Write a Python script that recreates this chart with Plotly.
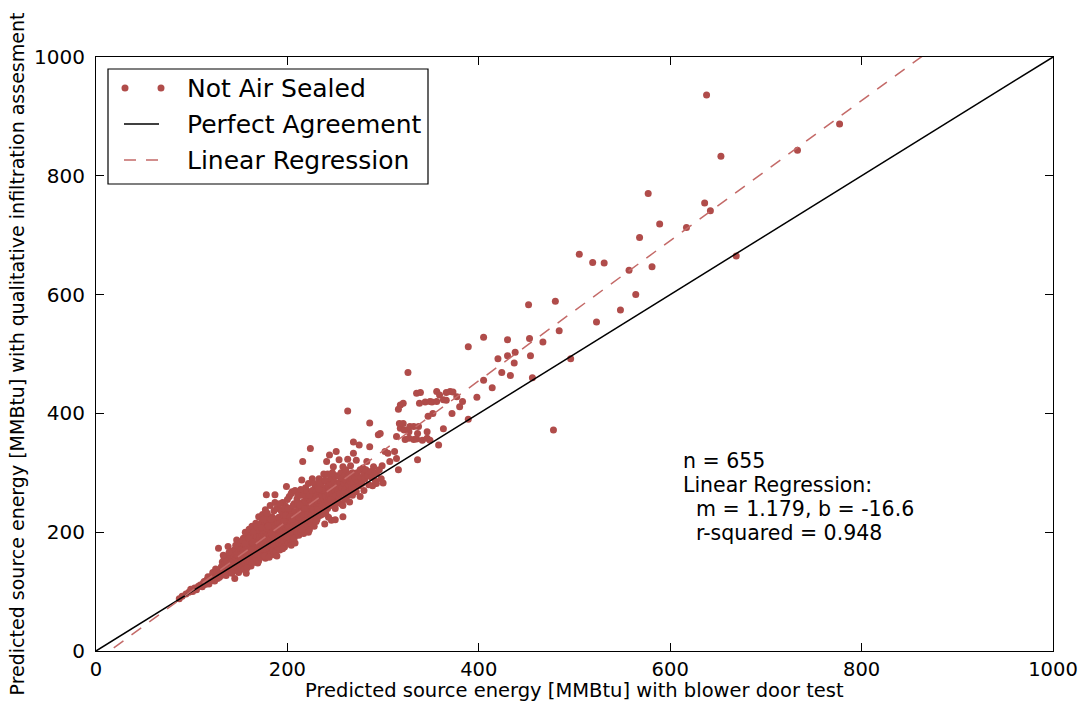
import plotly.graph_objects as go

# ---------------------------------------------------------------------------
# Data: predicted source energy [MMBtu] per home, (blower door, qualitative)
# ---------------------------------------------------------------------------
small_homes = [
    (87, 88), (90, 92), (94, 96), (97, 99), (99, 104), (101, 100), (103, 106), (105, 103), (107, 109), (109, 111),
    (111, 108), (112, 114),
]

homes_113_130 = [
    (113, 117), (114, 112), (115, 118), (116, 120), (117, 115), (117, 125), (118, 122), (118, 113), (119, 118), (120, 125),
    (121, 119), (121, 123), (122, 127), (122, 132), (123, 121), (124, 130), (124, 118), (125, 124), (125, 138), (126, 128),
    (126, 133), (127, 122), (127, 129), (128, 131), (128, 126), (128, 173), (129, 136), (129, 124), (130, 127), (130, 133),
]

homes_130_150 = [
    (131, 135), (131, 142), (132, 128), (132, 150), (133, 138), (133, 145), (134, 131), (134, 156), (135, 140), (135, 148),
    (136, 134), (136, 152), (137, 143), (137, 160), (138, 138), (138, 147), (138, 176), (139, 133), (139, 154), (140, 142),
    (140, 150), (140, 163), (141, 137), (141, 157), (142, 146), (142, 168), (143, 140), (143, 153), (144, 135), (144, 160),
    (145, 148), (145, 122), (145, 171), (146, 141), (146, 155), (147, 150), (147, 187), (147, 163), (148, 137), (148, 158),
    (149, 145), (149, 167), (150, 152), (150, 140), (150, 175), (133, 161), (136, 127), (139, 166), (142, 131), (144, 151),
    (146, 178), (148, 150), (137, 151), (141, 149), (149, 132),
]

homes_150_170 = [
    (151, 158), (151, 145), (151, 170), (152, 138), (152, 163), (152, 181), (153, 150), (153, 172), (154, 143), (154, 160),
    (154, 190), (155, 155), (155, 167), (155, 178), (156, 148), (156, 171), (156, 200), (157, 131), (157, 160), (157, 184),
    (158, 152), (158, 168), (158, 198), (159, 145), (159, 175), (159, 189), (160, 158), (160, 166), (160, 180), (160, 205),
    (161, 150), (161, 172), (161, 193), (162, 162), (162, 178), (162, 143), (163, 169), (163, 185), (163, 210), (164, 155),
    (164, 174), (164, 196), (165, 160), (165, 182), (165, 170), (166, 150), (166, 188), (166, 177), (167, 165), (167, 199),
    (167, 215), (168, 158), (168, 180), (168, 192), (169, 171), (169, 148), (169, 205), (170, 163), (170, 186), (170, 176),
    (153, 186), (155, 137), (157, 176), (159, 163), (161, 186), (163, 148), (165, 201), (167, 156), (169, 184), (152, 155),
    (154, 168), (156, 181), (158, 140), (160, 190), (162, 170), (164, 183), (166, 163), (168, 209), (170, 226), (170, 152),
]

homes_170_190 = [
    (171, 170), (171, 190), (171, 203), (172, 158), (172, 182), (172, 215), (173, 175), (173, 195), (173, 165), (174, 186),
    (174, 206), (174, 230), (175, 162), (175, 178), (175, 198), (176, 170), (176, 190), (176, 213), (177, 156), (177, 183),
    (177, 202), (177, 238), (178, 175), (178, 193), (178, 263), (178, 220), (179, 168), (179, 186), (179, 208), (180, 179),
    (180, 196), (180, 162), (180, 225), (181, 188), (181, 204), (181, 172), (182, 195), (182, 182), (182, 214), (182, 245),
    (183, 165), (183, 200), (183, 190), (184, 178), (184, 208), (184, 226), (185, 170), (185, 193), (185, 184), (185, 218),
    (186, 200), (186, 162), (186, 236), (187, 188), (187, 263), (187, 210), (187, 177), (188, 196), (188, 222), (188, 168),
    (189, 185), (189, 205), (189, 240), (190, 175), (190, 198), (190, 215), (171, 180), (173, 208), (175, 222), (176, 160),
    (178, 207), (179, 232), (180, 210), (181, 158), (183, 222), (184, 196), (186, 180), (187, 250), (188, 206), (189, 160),
]

homes_190_210 = [
    (191, 182), (191, 205), (191, 225), (192, 195), (192, 170), (192, 215), (193, 188), (193, 208), (193, 238), (194, 200),
    (194, 178), (194, 222), (195, 192), (195, 212), (195, 250), (196, 185), (196, 205), (196, 230), (197, 198), (197, 175),
    (197, 218), (198, 210), (198, 190), (198, 244), (199, 203), (199, 277), (199, 225), (200, 186), (200, 215), (200, 235),
    (200, 198), (201, 208), (201, 182), (201, 222), (202, 195), (202, 260), (202, 228), (203, 212), (203, 188), (203, 240),
    (204, 200), (204, 220), (204, 178), (205, 210), (205, 232), (205, 192), (205, 268), (206, 205), (206, 225), (206, 185),
    (207, 215), (207, 198), (207, 248), (208, 182), (208, 222), (208, 235), (209, 208), (209, 195), (209, 228), (210, 218),
    (210, 200), (210, 256), (191, 195), (192, 248), (193, 200), (194, 235), (195, 172), (196, 218), (197, 240), (198, 228),
    (199, 193), (200, 255), (201, 240), (202, 208), (203, 225), (204, 265), (205, 222), (206, 245), (207, 190), (208, 270),
]

homes_210_230 = [
    (211, 205), (211, 228), (211, 248), (212, 215), (212, 195), (212, 240), (213, 232), (213, 210), (213, 262), (214, 222),
    (214, 200), (214, 245), (215, 288), (215, 218), (215, 235), (216, 208), (216, 250), (216, 319), (216, 228), (217, 240),
    (217, 198), (217, 265), (218, 225), (218, 212), (218, 252), (219, 235), (219, 205), (219, 275), (220, 245), (220, 220),
    (220, 232), (221, 210), (221, 258), (221, 240), (222, 228), (222, 248), (222, 282), (223, 218), (223, 236), (223, 204),
    (224, 341), (224, 252), (224, 230), (225, 242), (225, 265), (225, 215), (226, 235), (226, 255), (226, 290), (227, 222),
    (227, 248), (228, 238), (228, 260), (228, 210), (229, 245), (229, 228), (229, 275), (230, 252), (230, 235), (230, 218),
    (211, 262), (212, 225), (213, 246), (214, 272), (215, 205), (216, 262), (217, 228), (218, 240), (219, 220), (220, 270),
    (221, 230), (222, 200), (223, 262), (224, 245), (225, 228), (226, 270), (227, 238), (228, 282), (229, 255), (230, 268),
]

homes_230_250 = [
    (231, 240), (231, 262), (231, 222), (232, 250), (232, 275), (233, 235), (233, 258), (233, 290), (234, 245), (234, 228),
    (234, 268), (235, 252), (235, 240), (235, 282), (236, 262), (236, 230), (237, 248), (237, 272), (238, 255), (238, 240),
    (238, 298), (239, 214), (239, 265), (239, 250), (240, 275), (240, 245), (240, 260), (241, 319), (241, 252), (241, 285),
    (242, 240), (242, 268), (243, 258), (243, 278), (243, 225), (244, 330), (244, 262), (244, 248), (245, 272), (245, 290),
    (246, 220), (246, 258), (246, 280), (247, 265), (247, 245), (248, 310), (248, 275), (248, 255), (249, 285), (249, 262),
    (250, 270), (250, 240), (250, 295), (232, 238), (234, 282), (236, 270), (237, 232), (239, 288), (242, 298), (245, 255),
    (247, 300), (249, 250), (233, 272), (236, 245), (240, 232),
]

homes_250_270 = [
    (250, 221), (251, 262), (251, 336), (252, 280), (252, 250), (253, 270), (253, 295), (254, 258), (254, 322), (255, 285),
    (255, 265), (256, 248), (256, 300), (257, 275), (257, 290), (258, 226), (258, 245), (258, 310), (259, 282), (259, 265),
    (260, 295), (260, 270), (260, 255), (261, 288), (261, 305), (262, 275), (262, 260), (263, 404), (263, 323), (263, 292),
    (264, 280), (264, 268), (265, 251), (265, 298), (266, 285), (266, 312), (267, 272), (267, 290), (268, 300), (268, 262),
    (269, 333), (269, 352), (269, 282), (270, 295), (270, 275),
]

homes_270_300 = [
    (271, 290), (272, 321), (272, 268), (273, 300), (274, 285), (275, 347), (275, 278), (276, 260), (276, 305), (277, 292),
    (278, 282), (279, 308), (280, 298), (280, 270), (281, 290), (282, 305), (283, 319), (284, 295), (285, 280), (286, 344),
    (286, 384), (287, 302), (288, 292), (289, 278), (290, 310), (291, 300), (292, 286), (293, 282), (293, 299), (295, 364),
    (296, 305), (297, 366), (298, 290), (299, 312), (300, 283),
]

homes_300_390 = [
    (302, 336), (305, 333), (307, 319), (312, 336), (314, 324), (314, 361), (316, 305), (316, 407), (318, 375), (317, 383),
    (318, 414), (321, 417), (321, 383), (322, 372), (323, 356), (325, 372), (327, 358), (327, 369), (326, 469), (328, 378),
    (332, 356), (332, 378), (335, 357), (336, 366), (336, 322), (337, 378), (338, 417), (335, 434), (339, 435), (341, 355),
    (344, 419), (346, 358), (346, 369), (347, 395), (349, 420), (349, 355), (351, 419), (352, 400), (356, 420), (356, 437),
    (358, 347), (359, 431), (363, 374), (363, 423), (366, 435), (366, 422), (370, 437), (372, 400), (373, 436), (377, 428),
    (380, 411), (383, 420), (389, 390),
]

large_homes = [
    (389, 512), (398, 427), (405, 456), (405, 528), (414, 443), (420, 492), (424, 469), (430, 497), (430, 524), (433, 464),
    (437, 485), (438, 503), (452, 583), (453, 526), (454, 497), (456, 460), (467, 520), (478, 372), (480, 589), (484, 539),
    (496, 492), (505, 668), (519, 654), (523, 554), (531, 653), (548, 574), (557, 641), (564, 600), (568, 696), (577, 770),
    (581, 647), (589, 719), (617, 713), (636, 754), (638, 936), (642, 741), (653, 833), (669, 665), (733, 843), (777, 887),
]

# Regression summary
N_HOMES = 655
REG_SLOPE = 1.179
REG_INTERCEPT = -16.6
R_SQUARED = 0.948

AXIS_RANGE = [0, 1000]
AXIS_TICKS = [0, 200, 400, 600, 800, 1000]
X_TITLE = "Predicted source energy [MMBtu] with blower door test"
Y_TITLE = "Predicted source energy [MMBtu] with qualitative infiltration assesment"

homes = (small_homes + homes_113_130 + homes_130_150 + homes_150_170 + homes_170_190
         + homes_190_210 + homes_210_230 + homes_230_250 + homes_250_270
         + homes_270_300 + homes_300_390 + large_homes)
blower_door = [h[0] for h in homes]
qualitative = [h[1] for h in homes]

# ---------------------------------------------------------------------------
# Styling
# ---------------------------------------------------------------------------
FONT = "DejaVu Sans"
POINT_COLOR = "#b04c4a"
REG_COLOR = "#c46a68"
DASH = "12px,10px"

W, H = 1081, 702
PLOT_L, PLOT_R, PLOT_T, PLOT_B = 96, 1053, 57, 651


def paper_x(px):
    return (px - PLOT_L) / (PLOT_R - PLOT_L)


def paper_y(py):
    return (PLOT_B - py) / (PLOT_B - PLOT_T)


fig = go.Figure()

fig.add_trace(go.Scatter(
    x=blower_door, y=qualitative, mode="markers",
    marker=dict(color=POINT_COLOR, size=7, line=dict(width=0)),
    name="Not Air Sealed", showlegend=False,
))

fig.add_trace(go.Scatter(
    x=AXIS_RANGE, y=AXIS_RANGE, mode="lines",
    line=dict(color="black", width=1.5),
    name="Perfect Agreement", showlegend=False,
))

reg_x = AXIS_RANGE
reg_y = [REG_SLOPE * v + REG_INTERCEPT for v in reg_x]
fig.add_trace(go.Scatter(
    x=reg_x, y=reg_y, mode="lines",
    line=dict(color=REG_COLOR, width=1.5, dash=DASH),
    name="Linear Regression", showlegend=False,
))

axis_common = dict(
    range=AXIS_RANGE, tickvals=AXIS_TICKS, ticks="inside", ticklen=8, tickwidth=1,
    tickcolor="black", showline=True, linecolor="black", linewidth=1.2,
    mirror="ticks", showgrid=False, zeroline=False,
    tickfont=dict(family=FONT, size=20, color="black"),
)

fig.update_layout(
    width=W, height=H,
    margin=dict(l=PLOT_L, r=W - PLOT_R, t=PLOT_T, b=H - PLOT_B, autoexpand=False),
    paper_bgcolor="white", plot_bgcolor="white",
    font=dict(family=FONT, color="black"),
    showlegend=False,
    xaxis=dict(**axis_common, ticklabelstandoff=0),
    yaxis=dict(
        **axis_common,
        ticklabelstandoff=6,
        title=dict(text=Y_TITLE, font=dict(family=FONT, size=19, color="black"), standoff=4),
    ),
)
fig.update_xaxes(tickfont_size=19.5)

# Legend box drawn by hand (two marker dots per entry)
shapes = [
    dict(type="rect", xref="paper", yref="paper",
         x0=paper_x(108), x1=paper_x(428), y0=paper_y(184), y1=paper_y(69),
         line=dict(color="black", width=1.2), fillcolor="white", layer="above"),
    dict(type="line", xref="paper", yref="paper",
         x0=paper_x(124), x1=paper_x(159), y0=paper_y(124), y1=paper_y(124),
         line=dict(color="black", width=1.5), layer="above"),
    dict(type="line", xref="paper", yref="paper",
         x0=paper_x(124), x1=paper_x(159), y0=paper_y(160), y1=paper_y(160),
         line=dict(color=REG_COLOR, width=1.5, dash=DASH), layer="above"),
]
for cx in (125, 161):
    shapes.append(dict(
        type="circle", xref="paper", yref="paper",
        xsizemode="pixel", ysizemode="pixel",
        xanchor=paper_x(cx), yanchor=paper_y(88),
        x0=-3.5, x1=3.5, y0=-3.5, y1=3.5,
        fillcolor=POINT_COLOR, line=dict(width=0), layer="above",
    ))

legend_rows = [("Not Air Sealed", 89), ("Perfect Agreement", 124.5), ("Linear Regression", 160)]
annotations = [
    dict(text=label, xref="paper", yref="paper", x=paper_x(185), y=paper_y(py),
         xanchor="left", yanchor="middle", showarrow=False,
         font=dict(family=FONT, size=25, color="black"))
    for label, py in legend_rows
]

# x-axis title placed just below the tick labels
annotations.append(dict(
    text=X_TITLE, xref="paper", yref="paper", x=0.5, y=paper_y(690),
    xanchor="center", yanchor="middle", showarrow=False, borderpad=0,
    font=dict(family=FONT, size=19.5, color="black"),
))

# Fit statistics, one annotation per line for tight line spacing
stats_lines = [
    (f"n = {N_HOMES}", 461),
    ("Linear Regression:", 485),
    (f"\u00a0\u00a0m = {REG_SLOPE:.3f}, b = {REG_INTERCEPT:.1f}", 509),
    (f"\u00a0\u00a0r-squared = {R_SQUARED:.3f}", 533),
]
for text, py in stats_lines:
    annotations.append(dict(
        text=text, xref="paper", yref="paper", x=paper_x(681), y=paper_y(py),
        xanchor="left", yanchor="middle", align="left", showarrow=False,
        font=dict(family=FONT, size=20.5, color="black"),
    ))

fig.update_layout(shapes=shapes, annotations=annotations)

fig.write_html("out.html")
